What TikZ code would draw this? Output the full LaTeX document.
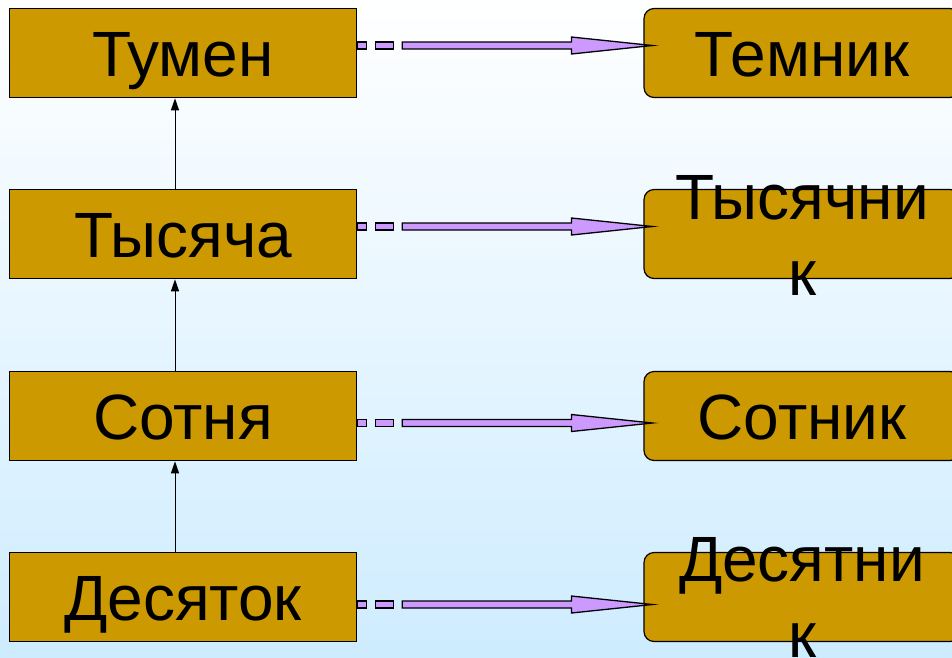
\documentclass[tikz,border=0pt]{standalone}
\usepackage{fontspec}
\setmainfont{Liberation Sans}
\usetikzlibrary{calc,arrows.meta}
\definecolor{gold}{RGB}{204,153,0}
\definecolor{lilac}{RGB}{204,153,255}
\definecolor{skyb}{RGB}{206,236,255}
\newcommand\bigtxt{\fontsize{64}{76}\selectfont}
\newcommand\blockarr[2]{%
  \draw[barrow] ($(#1)+(0,-3.5)$) rectangle ($(#1)+(9,3.5)$);
  \draw[barrow] ($(#1)+(18,-3.5)$) rectangle ($(#1)+(36,3.5)$);
  \draw[barrow] ($(#1)+(45,-3.5)$) -- ($(#2)+(-81,-3.5)$) -- ($(#2)+(-81,-8.5)$) -- (#2)
     -- ($(#2)+(-81,8.5)$) -- ($(#2)+(-81,3.5)$) -- ($(#1)+(45,3.5)$) -- cycle;}
\tikzset{
  lbox/.style={draw=black, line width=1.6pt, fill=gold, minimum width=347pt, minimum height=89pt, inner sep=0pt, font=\bigtxt, text height=47pt, text depth=0pt},
  rbox/.style={draw=black, line width=1.2pt, fill=gold, rounded corners=10pt, minimum width=316pt, minimum height=89pt, inner sep=0pt, font=\bigtxt, text height=47pt, text depth=0pt},
  rtext/.style={align=center, inner sep=0pt, font=\bigtxt},
  barrow/.style={draw=black, line width=1.3pt, fill=lilac, line join=miter},
  uparrow/.style={-{Triangle[length=12pt,width=8pt]}, line width=1pt}
}
\begin{document}
\begin{tikzpicture}[x=1pt,y=-1pt]
\useasboundingbox (0,0) rectangle (952,657);
\clip (0,0) rectangle (952,657);
\shade[top color=white, bottom color=skyb] (0,0) rectangle (952,657);
% left column
\node[lbox] (L1) at (183,53) {Тумен};
\node[lbox] (L2) at (183,234) {Тысяча};
\node[lbox] (L3) at (183,416) {Сотня};
\node[lbox] (L4) at (183,597) {Десяток};
% right column
\node[rbox] (R1) at (802,53) {Темник};
\node[rbox] (R2) at (802,234) {};
\node[rbox] (R3) at (802,416) {Сотник};
\node[rbox] (R4) at (802,597) {};
\node[rtext] (T2) at ($(R2.center)+(0,1)$) {Тысячни\\к};
\node[rtext] (T4) at (R4.center) {Десятни\\к};
% vertical arrows
\draw[uparrow] ($(L2.north)+(-8,0)$) -- ($(L1.south)+(-8,0)$);
\draw[uparrow] ($(L3.north)+(-8,0)$) -- ($(L2.south)+(-8,0)$);
\draw[uparrow] ($(L4.north)+(-8,0)$) -- ($(L3.south)+(-8,0)$);
% block arrows
\coordinate (S1) at ($(L1.east)+(0,-7.5)$); \coordinate (E1) at ($(R1.west)+(9,-7.5)$);
\coordinate (S2) at ($(L2.east)+(0,-7.5)$); \coordinate (E2) at ($(R2.west)+(9,-7.5)$);
\coordinate (S3) at ($(L3.east)+(0,7)$);    \coordinate (E3) at ($(R3.west)+(9,7)$);
\coordinate (S4) at ($(L4.east)+(0,7.5)$);  \coordinate (E4) at ($(R4.west)+(9,7.5)$);
\blockarr{S1}{E1}
\blockarr{S2}{E2}
\blockarr{S3}{E3}
\blockarr{S4}{E4}
\end{tikzpicture}
\end{document}
